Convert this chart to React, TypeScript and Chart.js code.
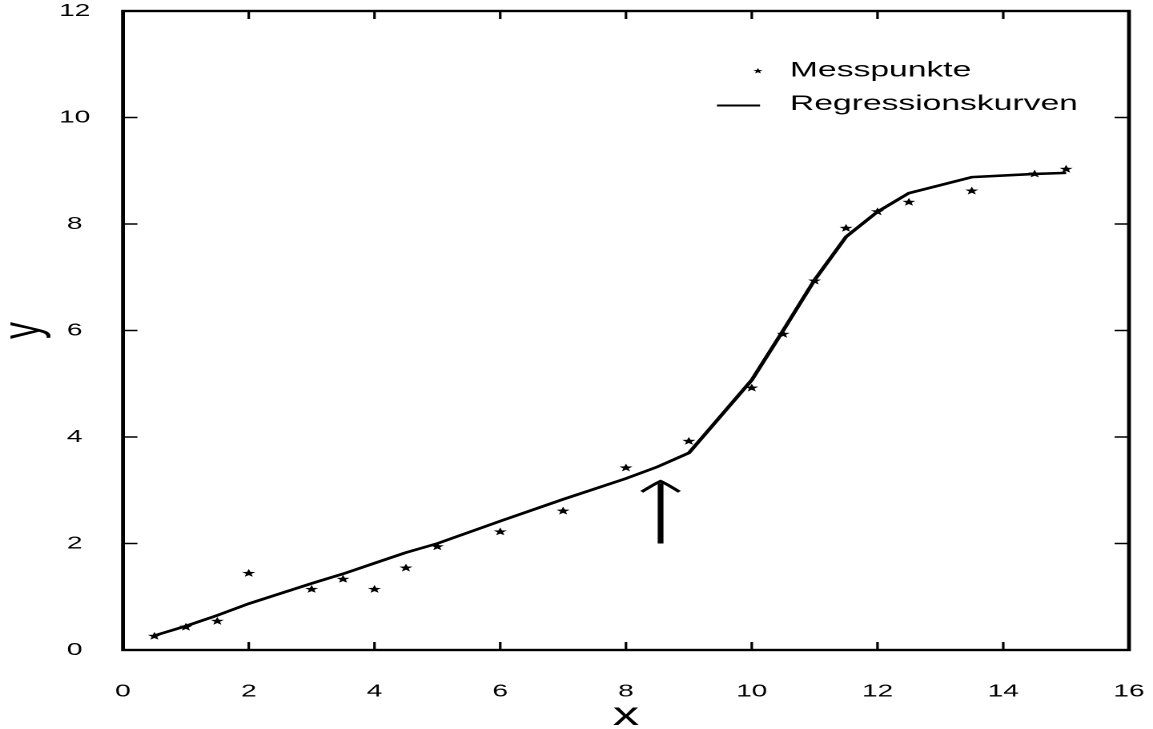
import React, { useEffect, useRef } from "react";
import { Chart, registerables } from "chart.js";

Chart.register(...registerables);

// ---- data ----
const MEASURED_X = [0.5, 1, 1.5, 2, 3, 3.5, 4, 4.5, 5, 6, 7, 8, 9, 10, 10.5, 11, 11.5, 12, 12.5, 13.5, 14.5, 15];
const MEASURED_Y = [0.26, 0.43, 0.54, 1.44, 1.14, 1.33, 1.14, 1.54, 1.94, 2.22, 2.61, 3.42, 3.92, 4.92, 5.93, 6.93, 7.92, 8.23, 8.41, 8.62, 8.94, 9.03];

const CURVE_X = [0.5, 1, 1.5, 2, 3, 3.5, 4, 4.5, 5, 6, 7, 8, 8.5, 9, 10, 10.5, 11, 11.5, 12, 12.5, 13.5, 14.5, 15];
const CURVE_Y = [0.27, 0.45, 0.65, 0.87, 1.25, 1.43, 1.63, 1.83, 2.0, 2.42, 2.83, 3.22, 3.44, 3.7, 5.07, 6.0, 6.95, 7.76, 8.23, 8.58, 8.88, 8.94, 8.96];

const X_TICKS = [0, 2, 4, 6, 8, 10, 12, 14, 16];
const Y_TICKS = [0, 2, 4, 6, 8, 10, 12];

const ARROW_X = 8.55;
const ARROW_FROM_Y = 2.0;
const ARROW_TIP_Y = 3.17;
const ARROW_WING_DX = 0.3;
const ARROW_WING_Y = 2.97;

const LEGEND_LABELS = ["Messpunkte", "Regressionskurven"];
const X_TITLE = "x";
const Y_TITLE = "y";

// ---- layout ----
const PAGE_W = 1153;
const PAGE_H = 729;
const CANVAS_W = 720;
const STRETCH = PAGE_W / CANVAS_W;
const FONT = "'Liberation Sans', Arial, Helvetica, sans-serif";

function starPath(ctx: CanvasRenderingContext2D, cx: number, cy: number, R: number, r: number) {
  ctx.beginPath();
  for (let i = 0; i < 10; i++) {
    const rad = i % 2 === 0 ? R : r;
    const a = -Math.PI / 2 + (i * Math.PI) / 5;
    const px = cx + rad * Math.cos(a);
    const py = cy + rad * Math.sin(a);
    if (i === 0) ctx.moveTo(px, py);
    else ctx.lineTo(px, py);
  }
  ctx.closePath();
  ctx.fill();
}

const decorPlugin = {
  id: "decor",
  afterDatasetsDraw(chart: any) {
    const { ctx, chartArea } = chart;
    const { left, right, top, bottom } = chartArea;
    const xs = chart.scales.x;
    const ys = chart.scales.y;
    ctx.save();
    ctx.strokeStyle = "#000";
    ctx.fillStyle = "#000";

    // stars at the measured points
    const meta = chart.getDatasetMeta(0);
    meta.data.forEach((el: any) => starPath(ctx, el.x, el.y, 4.3, 1.8));

    // frame
    ctx.lineWidth = 2.4;
    ctx.lineCap = "square";
    ctx.strokeRect(left, top, right - left, bottom - top);

    // inward ticks
    ctx.lineWidth = 1.6;
    ctx.lineCap = "butt";
    xs.ticks.forEach((t: any) => {
      if (t.value === xs.min || t.value === xs.max) return;
      const px = xs.getPixelForValue(t.value);
      ctx.beginPath();
      ctx.moveTo(px, bottom);
      ctx.lineTo(px, bottom - 8);
      ctx.moveTo(px, top);
      ctx.lineTo(px, top + 8);
      ctx.stroke();
    });
    ys.ticks.forEach((t: any) => {
      if (t.value === ys.min || t.value === ys.max) return;
      const py = ys.getPixelForValue(t.value);
      ctx.beginPath();
      ctx.moveTo(left, py);
      ctx.lineTo(left + 9, py);
      ctx.moveTo(right, py);
      ctx.lineTo(right - 9, py);
      ctx.stroke();
    });

    // arrow
    const ax = xs.getPixelForValue(ARROW_X);
    const ay0 = ys.getPixelForValue(ARROW_FROM_Y);
    const ay1 = ys.getPixelForValue(ARROW_TIP_Y);
    ctx.lineWidth = 3.6;
    ctx.beginPath();
    ctx.moveTo(ax, ay0);
    ctx.lineTo(ax, ay1 + 2);
    ctx.stroke();
    const wl = xs.getPixelForValue(ARROW_X - ARROW_WING_DX);
    const wr = xs.getPixelForValue(ARROW_X + ARROW_WING_DX);
    const wy = ys.getPixelForValue(ARROW_WING_Y);
    ctx.lineWidth = 2.6;
    ctx.lineJoin = "miter";
    ctx.beginPath();
    ctx.moveTo(wl, wy);
    ctx.quadraticCurveTo(ax - 3, ay1 + 2, ax, ay1);
    ctx.quadraticCurveTo(ax + 3, ay1 + 2, wr, wy);
    ctx.stroke();

    // legend
    const lx = right - 211.7;
    ctx.font = `21px ${FONT}`;
    ctx.textBaseline = "alphabetic";
    ctx.textAlign = "left";
    starPath(ctx, right - 231.7, 71, 3, 1.3);
    ctx.fillText(LEGEND_LABELS[0], lx, 76.7);
    ctx.lineWidth = 2;
    ctx.beginPath();
    ctx.moveTo(right - 257.3, 105.5);
    ctx.lineTo(right - 230.4, 105.5);
    ctx.stroke();
    ctx.fillText(LEGEND_LABELS[1], lx, 110);

    ctx.restore();
  },
};

export default function App() {
  const ref = useRef<HTMLCanvasElement>(null);

  useEffect(() => {
    if (!ref.current) return;
    const measured = MEASURED_X.map((x, i) => ({ x, y: MEASURED_Y[i] }));
    const curve = CURVE_X.map((x, i) => ({ x, y: CURVE_Y[i] }));
    const tickFont = { family: FONT, size: 17.5 };
    const chart = new Chart(ref.current, {
      type: "scatter",
      data: {
        datasets: [
          {
            type: "scatter",
            label: LEGEND_LABELS[0],
            data: measured,
            pointRadius: 0,
            pointHoverRadius: 0,
            backgroundColor: "#000",
            borderColor: "#000",
          } as any,
          {
            type: "line",
            label: LEGEND_LABELS[1],
            data: curve,
            borderColor: "#000",
            borderWidth: 2.6,
            pointRadius: 0,
            pointHoverRadius: 0,
            tension: 0,
            fill: false,
            showLine: true,
          } as any,
        ],
      },
      options: {
        responsive: false,
        maintainAspectRatio: false,
        animation: false,
        devicePixelRatio: 2,
        events: [],
        layout: { padding: { left: 0, top: 11, right: CANVAS_W - 705, bottom: 0 } },
        plugins: {
          legend: { display: false },
          tooltip: { enabled: false },
        },
        scales: {
          x: {
            type: "linear",
            min: 0,
            max: 16,
            afterBuildTicks: (s: any) => {
              s.ticks = X_TICKS.map((v) => ({ value: v }));
            },
            afterFit: (s: any) => {
              s.height = PAGE_H - 650;
              s.paddingLeft = 0;
              s.paddingRight = 0;
            },
            grid: { display: false },
            border: { display: false },
            ticks: {
              color: "#000",
              font: tickFont,
              padding: 23,
              maxRotation: 0,
              autoSkip: false,
            },
            title: {
              display: true,
              text: X_TITLE,
              color: "#000",
              font: { family: FONT, size: 33, lineHeight: 0.8 },
              padding: 0,
            },
          },
          y: {
            type: "linear",
            min: 0,
            max: 12,
            afterBuildTicks: (s: any) => {
              s.ticks = Y_TICKS.map((v) => ({ value: v }));
            },
            afterFit: (s: any) => {
              s.width = 76.8;
              s.paddingTop = 0;
              s.paddingBottom = 0;
            },
            grid: { display: false },
            border: { display: false },
            ticks: {
              color: "#000",
              font: tickFont,
              padding: 12.5,
              crossAlign: "center",
              autoSkip: false,
            },
            title: {
              display: true,
              text: Y_TITLE,
              color: "#000",
              font: { family: FONT, size: 34, lineHeight: 0.9 },
              padding: 0,
            },
          },
        },
      } as any,
      plugins: [decorPlugin],
    });
    return () => chart.destroy();
  }, []);

  return (
    <div
      style={{
        position: "fixed",
        left: 0,
        top: 0,
        width: PAGE_W,
        height: PAGE_H,
        overflow: "hidden",
        background: "#fff",
      }}
    >
      <canvas
        ref={ref}
        width={CANVAS_W}
        height={PAGE_H}
        style={{
          width: CANVAS_W,
          height: PAGE_H,
          transform: `scaleX(${STRETCH})`,
          transformOrigin: "0 0",
          display: "block",
        }}
      />
    </div>
  );
}
